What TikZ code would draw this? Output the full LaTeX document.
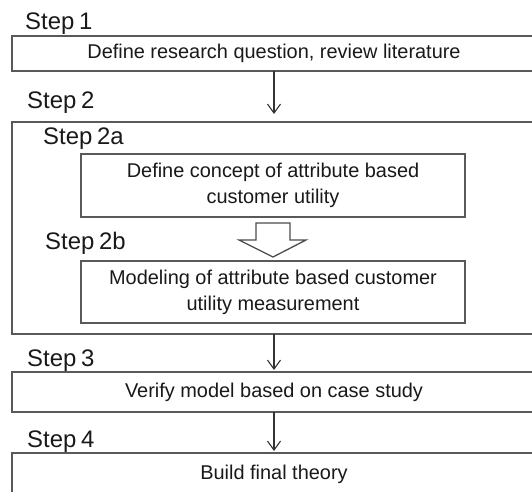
\documentclass[tikz,border=0pt]{standalone}
\usepackage{fontspec}
\setmainfont{Liberation Sans}
\usetikzlibrary{arrows.meta}
\newcommand\steplabelfont{\fontsize{24}{28}\selectfont\spaceskip 0.2em\relax}
\tikzset{
  stepbox/.style={draw=black!65, line width=1.3bp, inner sep=0pt, outer sep=0pt,
    text=black!90, font=\fontsize{20}{26}\selectfont, align=center},
  steplabel/.style={anchor=base west, inner sep=0pt, text=black!90,
    font=\steplabelfont},
  flow/.style={-{Straight Barb[length=9bp,width=13bp]}, line width=1.1bp, draw=black!80},
  hollow/.style={draw=black!70, line width=1.3bp, fill=white}
}
\begin{document}
\begin{tikzpicture}[x=1bp,y=-1bp]
    \clip (0,0) rectangle (532,492);
    \fill [white] (0,0) rectangle (532,492);
    % boxes
    \node [stepbox, minimum width=524bp, minimum height=35bp] (review) at (274,53.5) {Define research question, review literature};
    \node [stepbox, minimum width=524bp, minimum height=212bp] (model) at (274,228) {};
    \node [stepbox, minimum width=384bp, minimum height=63bp] (concept) at (273,185.5) {Define concept of attribute based\\customer utility};
    \node [stepbox, minimum width=384bp, minimum height=62bp] (measure) at (273,292) {Modeling of attribute based customer\\utility measurement};
    \node [stepbox, minimum width=524bp, minimum height=40bp] (verify) at (274,392) {Verify model based on case study};
    \node [stepbox, minimum width=524bp, minimum height=42bp] (theory) at (274,474) {Build final theory};
    % step labels
    \node [steplabel] (s1) at (25,30) {Step 1};
    \node [steplabel] (s2) at (27,109) {Step 2};
    \node [steplabel] (s2a) at (43,145) {Step 2a};
    \node [steplabel] (s2b) at (45,249) {Step 2b};
    \node [steplabel] (s3) at (27,366) {Step 3};
    \node [steplabel] (s4) at (27,447) {Step 4};
    % arrows
    \draw [flow, shorten >=8bp] (review.south) -- (model.north);
    \draw [flow, shorten >=2bp] (model.south) -- (verify.north);
    \draw [flow, shorten >=2bp] (verify.south) -- (theory.north);
    \draw [hollow] ([yshift=-6bp]concept.south) ++(-17,0) -- ++(34,0) -- ++(0,17) -- ++(16,0)
      -- ++(-33,17) -- ++(-34,-17) -- ++(17,0) -- cycle;
\end{tikzpicture}
\end{document}
